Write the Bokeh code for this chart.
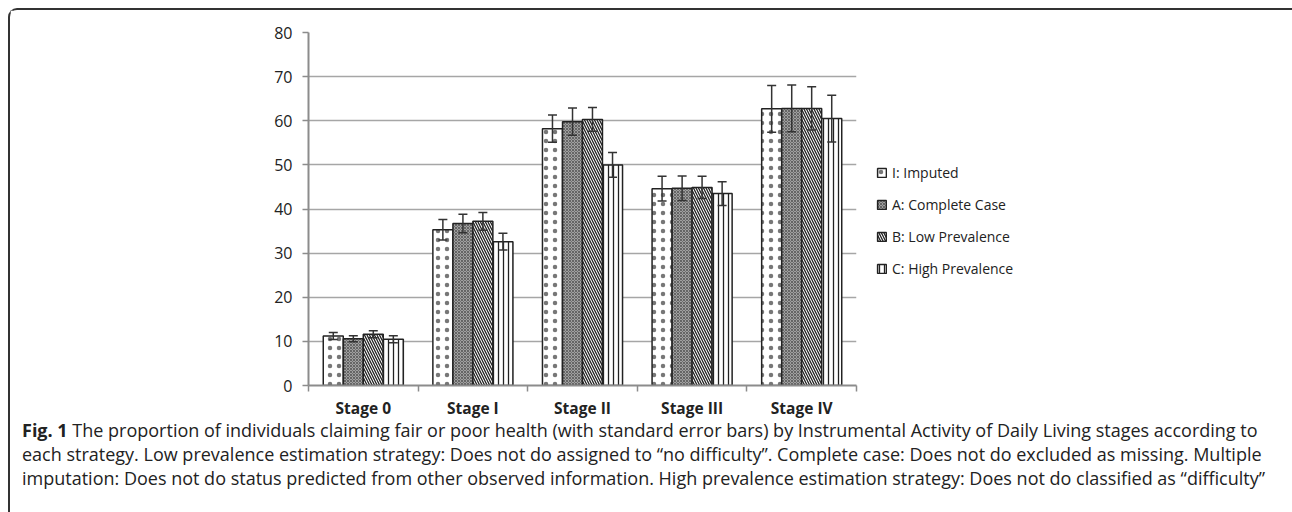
from bokeh.plotting import figure
from bokeh.layouts import column
from bokeh.models import (ColumnDataSource, FixedTicker, Whisker, TeeHead, Legend,
                          LegendItem, Range1d, Div)
from bokeh.embed import file_html
from bokeh.resources import INLINE

# ---------------- data ----------------
stages = ["Stage 0", "Stage I", "Stage II", "Stage III", "Stage IV"]
series_names = ["I: Imputed", "A: Complete Case", "B: Low Prevalence", "C: High Prevalence"]
imputed = [11.2, 35.3, 58.2, 44.6, 62.7]
imputed_se = [0.8, 2.3, 3.1, 2.8, 5.3]
complete = [10.6, 36.7, 59.8, 44.7, 62.8]
complete_se = [0.7, 2.1, 3.1, 2.8, 5.3]
low_prev = [11.6, 37.2, 60.3, 44.9, 62.8]
low_prev_se = [0.8, 2.0, 2.7, 2.5, 4.9]
high_prev = [10.5, 32.6, 50.0, 43.5, 60.5]
high_prev_se = [0.8, 1.9, 2.8, 2.7, 5.3]
y_ticks = [0, 10, 20, 30, 40, 50, 60, 70, 80]

caption_bold = "Fig. 1"
caption_lines = [
    "The proportion of individuals claiming fair or poor health (with standard error bars) by Instrumental Activity of Daily Living stages according to",
    "each strategy. Low prevalence estimation strategy: Does not do assigned to \u201cno difficulty\u201d. Complete case: Does not do excluded as missing. Multiple",
    "imputation: Does not do status predicted from other observed information. High prevalence estimation strategy: Does not do classified as \u201cdifficulty\u201d",
]

# ---------------- chart figure ----------------
W = 1280
p = figure(frame_width=548, frame_height=353, output_backend="svg", toolbar_location=None,
           x_range=Range1d(-0.5, 4.5), y_range=Range1d(0, 80),
           min_border_left=298, min_border_right=300, min_border_top=22,
           min_border_bottom=30)
p.outline_line_color = None
p.background_fill_color = "white"
p.border_fill_color = "white"

# y axis
p.yaxis.ticker = FixedTicker(ticks=y_ticks)
p.yaxis.axis_line_color = "#8c8c8c"
p.yaxis.axis_line_width = 2
p.yaxis.major_tick_line_color = "#8c8c8c"
p.yaxis.major_tick_line_width = 1.5
p.yaxis.major_tick_out = 6
p.yaxis.major_tick_in = 0
p.yaxis.minor_tick_line_color = None
p.yaxis.major_label_text_font = "Open Sans"
p.yaxis.major_label_text_font_size = "16px"
p.yaxis.major_label_text_color = "#222222"
p.yaxis.major_label_standoff = 10

# x axis
p.xaxis.ticker = FixedTicker(ticks=[0, 1, 2, 3, 4], minor_ticks=[-0.5, 0.5, 1.5, 2.5, 3.5, 4.5])
p.xaxis.major_label_overrides = {i: s for i, s in enumerate(stages)}
p.xaxis.axis_line_color = "#8c8c8c"
p.xaxis.axis_line_width = 2
p.xaxis.major_tick_line_color = None
p.xaxis.major_tick_out = 0
p.xaxis.major_tick_in = 0
p.xaxis.minor_tick_line_color = "#8c8c8c"
p.xaxis.minor_tick_line_width = 1.5
p.xaxis.minor_tick_out = 6
p.xaxis.minor_tick_in = 0
p.xaxis.major_label_text_font = "Open Sans"
p.xaxis.major_label_text_font_style = "bold"
p.xaxis.major_label_text_font_size = "15.5px"
p.xaxis.major_label_text_color = "#222222"
p.xaxis.major_label_standoff = 5

p.xgrid.grid_line_color = None
p.ygrid.ticker = FixedTicker(ticks=y_ticks)
p.ygrid.grid_line_color = "#a6a6a6"
p.ygrid.grid_line_width = 1.5

# ---------------- bars ----------------
offsets = [-0.274, -0.091, 0.091, 0.274]
bar_w = 0.1825
values = [imputed, complete, low_prev, high_prev]
errors = [imputed_se, complete_se, low_prev_se, high_prev_se]
styles = [
    dict(fill_color="white", hatch_pattern="dot", hatch_color="#555555", hatch_scale=9,
         hatch_weight=0.1, hatch_alpha=0.8),
    dict(fill_color="#a0a0a0", hatch_pattern="diagonal_cross", hatch_color="#555555", hatch_scale=3, hatch_weight=0.8),
    dict(fill_color="white", hatch_pattern="left_diagonal_line", hatch_color="#222222", hatch_scale=5, hatch_weight=1.3),
    dict(fill_color="white", hatch_pattern="vertical_line", hatch_color="#222222", hatch_scale=5, hatch_weight=1.3),
]

items = []
for name, vals, errs, off, st in zip(series_names, values, errors, offsets, styles):
    src = ColumnDataSource(dict(
        x=[i + off for i in range(len(stages))],
        top=vals,
        upper=[v + e for v, e in zip(vals, errs)],
        lower=[v - e for v, e in zip(vals, errs)],
    ))
    r = p.vbar(x="x", top="top", bottom=0, width=bar_w, source=src,
               line_color="#222222", line_width=1.5, **st)
    items.append(LegendItem(label=name, renderers=[r]))
    w = Whisker(source=src, base="x", upper="upper", lower="lower",
                line_color="#333333", line_width=1.5, level="overlay",
                upper_head=TeeHead(size=9, line_color="#333333", line_width=1.5),
                lower_head=TeeHead(size=9, line_color="#333333", line_width=1.5))
    p.add_layout(w)

legend = Legend(items=items, location=(20, 107), orientation="vertical",
                border_line_color=None, background_fill_alpha=0,
                glyph_width=11, glyph_height=11, label_standoff=5,
                spacing=13, padding=0, margin=0,
                label_text_font="Open Sans", label_text_font_size="14px",
                label_text_color="#222222")
p.add_layout(legend, "right")

# ---------------- caption ----------------
caption_html = ("<b>" + caption_bold + "</b> " + caption_lines[0] + "<br>" +
                caption_lines[1] + "<br>" + caption_lines[2])
cap = Div(text=caption_html, width=W, height=90,
          styles={"font-family": "'Open Sans'", "font-size": "18px",
                  "line-height": "24px", "color": "#222222",
                  "white-space": "nowrap", "padding-left": "7px",
                  "padding-top": "2px", "position": "relative", "top": "-10px"})

layout = column(p, cap, spacing=0,
                styles={"margin-left": "8px", "margin-top": "8px",
                        "border-top": "2px solid #333333",
                        "border-left": "2px solid #333333",
                        "border-top-left-radius": "9px"})

open("out.html", "w").write(file_html(layout, INLINE))
